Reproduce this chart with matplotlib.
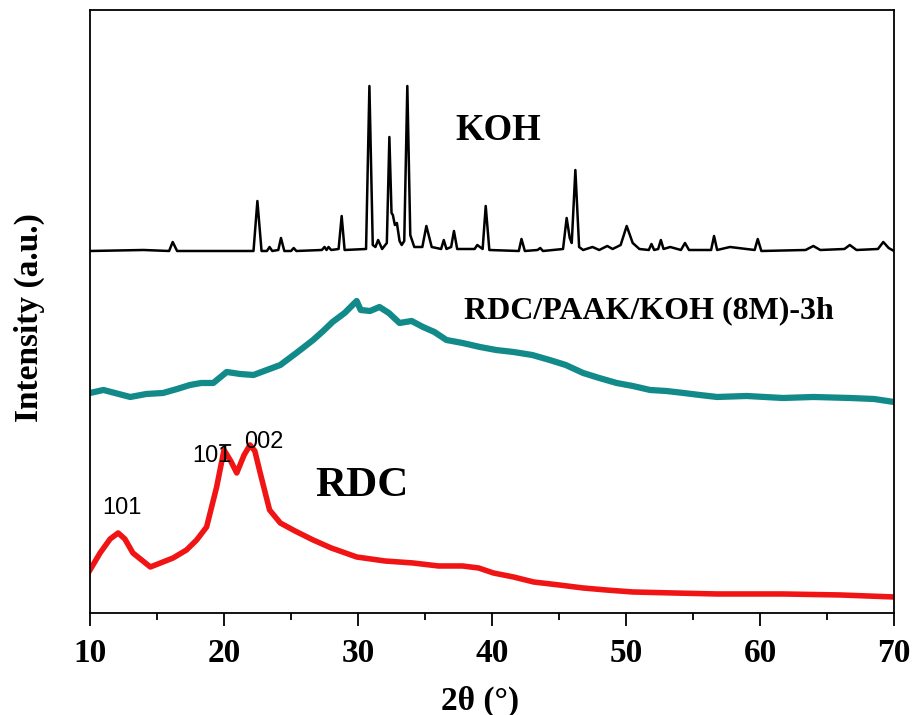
import numpy as np
import matplotlib
matplotlib.use('Agg')
import matplotlib.pyplot as plt

plt.rcParams['font.family'] = 'Liberation Serif'

# KOH pattern (2theta, intensity a.u.)
koh_x = [10, 14, 15.9, 16.17, 16.5, 22.2, 22.49, 22.8, 23.2, 23.4, 23.6, 24.05, 24.25, 24.5,
         25.0, 25.2, 25.4, 27.3, 27.5, 27.65, 27.8, 28.0, 28.55, 28.78, 29.0, 30.6, 30.85,
         31.1, 31.3, 31.5, 31.8, 32.15, 32.34, 32.5, 32.6, 32.75, 32.9, 33.1, 33.26, 33.45,
         33.68, 33.9, 34.2, 34.8, 35.1, 35.5, 36.2, 36.4, 36.6, 36.95, 37.16, 37.4, 38.7,
         38.9, 39.3, 39.53, 39.8, 42.0, 42.2, 42.45, 43.4, 43.6, 43.8, 45.3, 45.57, 45.8,
         45.95, 46.22, 46.5, 46.8, 47.5, 48.0, 48.6, 49.0, 49.6, 50.05, 50.5, 51.0, 51.7,
         51.9, 52.1, 52.4, 52.6, 52.8, 53.3, 54.1, 54.4, 54.7, 56.35, 56.57, 56.8, 57.76,
         59.6, 59.83, 60.1, 63.4, 63.98, 64.5, 66.3, 66.7, 67.2, 68.8, 69.2, 69.6, 70]
koh_y = [362, 363, 362, 371, 362, 362, 412, 362, 362, 366, 362, 363, 375, 362,
         362, 365, 362, 363, 366, 363, 366, 363, 364, 397, 363, 364, 527,
         368, 366, 373, 364, 370, 476, 400, 398, 388, 390, 372, 368, 372,
         527, 378, 366, 366, 387, 366, 364, 373, 364, 366, 382, 364, 364,
         368, 364, 407, 363, 362, 374, 362, 363, 365, 362, 364, 395, 375,
         370, 443, 366, 363, 366, 363, 367, 364, 368, 387, 370, 364, 363,
         369, 363, 364, 373, 364, 366, 363, 370, 363, 363, 377, 363, 366,
         363, 374, 362, 363, 367, 363, 364, 368, 363, 364, 371, 365, 362]

# RDC/PAAK/KOH (8M)-3h
mix_x = [10, 11, 13, 14.2, 15.45, 16.5, 17.46, 18.3, 19.2, 20.2, 21.2, 22.2, 23.2, 24.2,
         25.4, 26.65, 27.4, 28.1, 29.0, 29.9, 30.2, 30.9, 31.6, 32.3, 33.1, 34.0, 34.85,
         35.7, 36.6, 37.8, 39.1, 40.3, 41.6, 43.0, 44.3, 45.5, 46.8, 48.0, 49.3, 50.5,
         51.8, 53.0, 54.3, 55.5, 56.8, 59.0, 61.7, 64.0, 66.7, 68.5, 70]
mix_y = [220, 223, 216, 219, 220, 224, 228, 230, 230, 241, 239, 238, 243, 248,
         260, 273, 282, 291, 300, 312, 303, 302, 306, 300, 290, 292, 286,
         281, 273, 270, 266, 263, 261, 258, 253, 248, 240, 235, 230, 227,
         223, 222, 220, 218, 216, 217, 215, 216, 215, 214, 211]

# RDC
rdc_x = [10, 10.75, 11.5, 12.1, 12.6, 13.2, 14.5, 16.2, 17.2, 17.96, 18.7, 19.45, 20.0,
         20.5, 20.95, 21.5, 21.94, 22.3, 22.7, 23.4, 24.2, 25.3, 26.65, 28.0, 29.9, 32.0,
         34.1, 36.0, 37.8, 39.0, 40.1, 41.6, 43.1, 45.0, 46.8, 48.5, 50.5, 53.5, 56.8,
         61.7, 66.0, 70]
rdc_y = [43, 60, 74, 80, 74, 60, 46, 55, 63, 73, 86, 126, 163,
         152, 140, 158, 168, 162, 140, 103, 90, 82, 73, 65, 56, 52,
         50, 47, 47, 45, 40, 36, 31, 28, 25, 23, 21, 20, 19,
         19, 18, 16]

fig = plt.figure(figsize=(9.13, 7.15), dpi=100)
ax = fig.add_axes([0.0986, 0.1427, 0.8806, 0.8433])

ax.plot(koh_x, koh_y, color='black', lw=1.8)
ax.plot(mix_x, mix_y, color='#138a8a', lw=4.5)
ax.plot(rdc_x, rdc_y, color='#f01414', lw=4.0)

ax.set_xlim(10, 70)
ax.set_ylim(0, 603)
ax.set_xticks(range(10, 71, 10))
ax.set_xticks(range(15, 70, 10), minor=True)
ax.set_yticks([])
ax.tick_params(axis='x', which='major', direction='out', length=9, width=1.3,
               labelsize=24, pad=9)
ax.tick_params(axis='x', which='minor', direction='out', length=5, width=1.3)
for lab in ax.get_xticklabels():
    lab.set_fontweight('bold')
for s in ax.spines.values():
    s.set_linewidth(1.3)

ax.set_xlabel('2θ (°)', fontsize=24, fontweight='bold')
ax.xaxis.set_label_coords(0.485, -0.12)
ax.set_ylabel('Intensity (a.u.)', fontsize=24, fontweight='bold')
ax.yaxis.set_label_coords(-0.056, 0.49)

ax.text(37.3, 483, 'KOH', fontsize=26.5, fontweight='bold', ha='left', va='center')
ax.text(37.9, 302, 'RDC/PAAK/KOH (8M)-3h', fontsize=23, fontweight='bold',
        ha='left', va='center')
ax.text(26.8, 127, 'RDC', fontsize=31, fontweight='bold', ha='left', va='center')

ax.text(12.4, 105, '101', fontsize=17, family='Liberation Sans', ha='center', va='center')
t = ax.text(19.1, 157, '101', fontsize=17, family='Liberation Sans', ha='center', va='center')
# overline on the last index (1-bar)
ax.annotate('', xy=(0.70, 1.0), xycoords=t, xytext=(0.97, 1.0), textcoords=t,
            arrowprops=dict(arrowstyle='-', lw=1.3, color='black', shrinkA=0, shrinkB=0))
ax.text(23.0, 171, '002', fontsize=17, family='Liberation Sans', ha='center', va='center')

fig.savefig('out.png', dpi=100)
